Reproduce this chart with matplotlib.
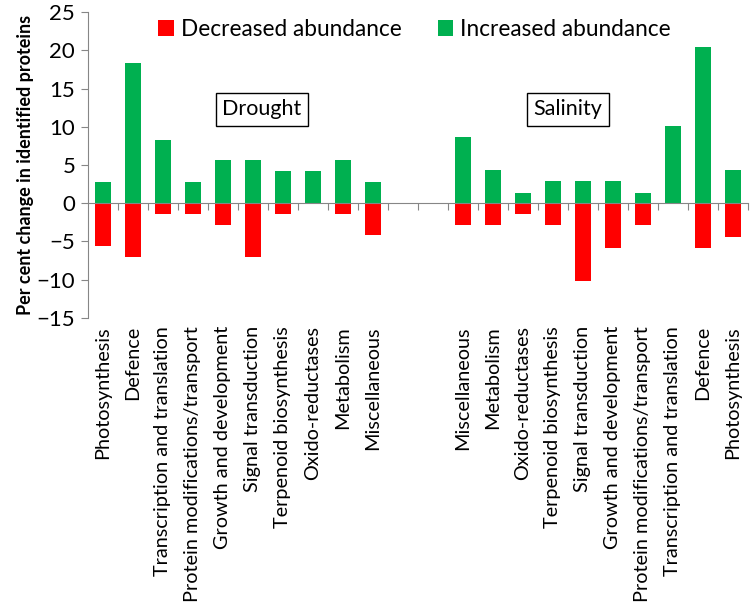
import numpy as np
import matplotlib.pyplot as plt

plt.rcParams['font.family'] = ['Lato', 'DejaVu Sans']

drought_cats = ['Photosynthesis', 'Defence', 'Transcription and translation',
                'Protein modifications/transport', 'Growth and development',
                'Signal transduction', 'Terpenoid biosynthesis', 'Oxido-reductases',
                'Metabolism', 'Miscellaneous']
drought_dec = [-5.6, -7.0, -1.4, -1.4, -2.8, -7.0, -1.4, 0.0, -1.4, -4.2]
drought_inc = [2.8, 18.3, 8.3, 2.8, 5.6, 5.6, 4.2, 4.2, 5.6, 2.8]

salinity_cats = ['Miscellaneous', 'Metabolism', 'Oxido-reductases', 'Terpenoid biosynthesis',
                 'Signal transduction', 'Growth and development',
                 'Protein modifications/transport', 'Transcription and translation',
                 'Defence', 'Photosynthesis']
salinity_dec = [-2.9, -2.9, -1.4, -2.9, -10.2, -5.8, -2.9, 0.0, -5.8, -4.4]
salinity_inc = [8.7, 4.3, 1.4, 2.9, 2.9, 2.9, 1.4, 10.1, 20.4, 4.3]

red = '#FF0000'
green = '#00B050'
grey = '#868686'

# two blank slots between the groups
cats = drought_cats + ['', ''] + salinity_cats
dec = drought_dec + [0, 0] + salinity_dec
inc = drought_inc + [0, 0] + salinity_inc
x = np.arange(len(cats))

fig = plt.figure(figsize=(7.5, 6.09), dpi=100)
ax = fig.add_axes([0.117, 0.478, 0.880, 0.502])

ax.bar(x, dec, width=0.55, color=red, label='Decreased abundance')
ax.bar(x, inc, width=0.55, color=green, label='Increased abundance')

ax.set_xlim(-0.5, len(cats) - 0.5)
ax.set_ylim(-15, 25)
ax.set_yticks(range(-15, 26, 5))
ax.tick_params(axis='y', labelsize=16, length=5, color=grey, pad=4)
ax.set_ylabel('Per cent change in identified proteins', fontsize=13, fontweight='bold', labelpad=2)

for s in ['top', 'right']:
    ax.spines[s].set_visible(False)
ax.spines['left'].set_color(grey)
ax.spines['bottom'].set_color(grey)
ax.spines['bottom'].set_position(('data', 0))
ax.set_xticks(np.arange(len(cats)) + 0.5)
ax.set_xticklabels([])
ax.tick_params(axis='x', direction='out', length=5, color=grey)

sec = ax.secondary_xaxis(0)
sec.set_xticks(x)
sec.set_xticklabels(cats, rotation=90, fontsize=14.3, va='top')
sec.tick_params(length=0, pad=6)
sec.spines['bottom'].set_visible(False)

ax.text(5.3, 12.3, 'Drought', fontsize=15.5, ha='center', va='center',
        bbox=dict(boxstyle='square,pad=0.3', fc='white', ec='black', lw=1))
ax.text(15.5, 12.3, 'Salinity', fontsize=15.5, ha='center', va='center',
        bbox=dict(boxstyle='square,pad=0.3', fc='white', ec='black', lw=1))

ax.legend(loc='upper center', ncol=2, frameon=False, fontsize=16.3, handlelength=0.7,
          handleheight=0.7, handletextpad=0.3, columnspacing=1.6,
          bbox_to_anchor=(0.495, 1.045))

fig.savefig('out.png', dpi=100)
